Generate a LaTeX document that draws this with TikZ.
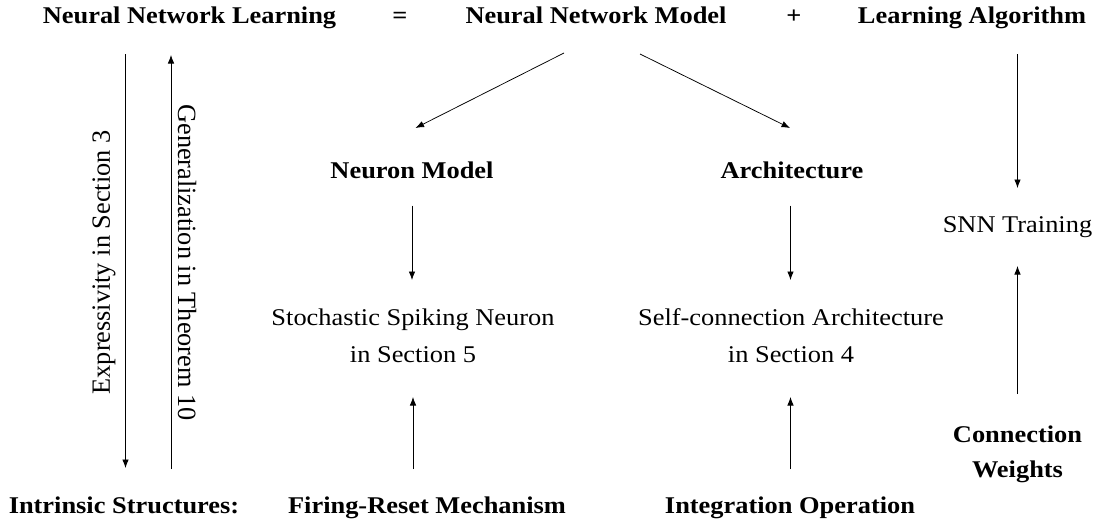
\documentclass[tikz,border=0pt]{standalone}
\usepackage{fontspec}
\usepackage{graphicx}
\setmainfont{Liberation Serif}
\usetikzlibrary{arrows.meta}
\newcommand{\hx}[1]{\scalebox{1.1}[1]{#1}}
\begin{document}
\begin{tikzpicture}[x=1pt,y=-1pt,
  head/.style={font=\fontsize{24}{35}\selectfont\bfseries, inner sep=0pt, align=center},
  body/.style={font=\fontsize{24}{37}\selectfont, inner sep=0pt, align=center},
  side/.style={font=\fontsize{26.3}{30}\selectfont, inner sep=0pt},
  arr/.style={line width=0.75pt, -{Latex[length=8.5pt,width=6.5pt]}}]
\useasboundingbox (0,0) rectangle (1097,525);
% top row
\node[head, anchor=base] (nnl) at (189.5,23) {\hx{Neural Network Learning}};
\node[head, anchor=base] (eq) at (400,23) {\hx{=}};
\node[head, anchor=base] (nnm) at (596,23) {\hx{Neural Network Model}};
\node[head, anchor=base] (plus) at (794,23) {\hx{+}};
\node[head, anchor=base] (la) at (972,23) {\hx{Learning Algorithm}};
% middle
\node[head, anchor=base] (nm) at (412,178) {\hx{Neuron Model}};
\node[head, anchor=base] (ar) at (792,178) {\hx{Architecture}};
\node[body] (ssn) at (413,335.3) {\hx{Stochastic Spiking Neuron}\\\hx{in Section 5}};
\node[body] (sca) at (791,335.3) {\hx{Self-connection Architecture}\\\hx{in Section 4}};
\node[body, anchor=base] (snn) at (1017.5,232) {\hx{SNN Training}};
\node[head] (cw) at (1017.5,453.9) {\hx{Connection}\\\hx{Weights}};
% bottom
\node[head, anchor=base] (is) at (124,513) {\hx{Intrinsic Structures:}};
\node[head, anchor=base] (frm) at (427,513) {\hx{Firing-Reset Mechanism}};
\node[head, anchor=base] (io) at (790,513) {\hx{Integration Operation}};
% left arrows
\coordinate (e1) at (125.5,54);
\coordinate (e2) at (125.5,468);
\coordinate (g1) at (171,469);
\coordinate (g2) at (171,55);
\draw[arr] (e1) -- (e2);
\draw[arr] (g1) -- (g2);
\node[side, rotate=90] (ex) at (104,262.5) {Expressivity in Section 3};
\node[side, rotate=-90] (ge) at (187,262.5) {Generalization in Theorem 10};
% connectors from the model
\coordinate (a1) at (564,53);
\coordinate (a2) at (415.5,128);
\coordinate (b1) at (640,54);
\coordinate (b2) at (790,128);
\draw[arr] (a1) -- (a2);
\draw[arr] (b1) -- (b2);
% middle column arrows
\coordinate (c1) at (412,205.5);
\coordinate (c2) at (412,280);
\coordinate (d1) at (790.5,205.5);
\coordinate (d2) at (790.5,280);
\draw[arr] (c1) -- (c2);
\draw[arr] (d1) -- (d2);
\coordinate (f1) at (413,469);
\coordinate (f2) at (413,397);
\coordinate (h1) at (790.5,469);
\coordinate (h2) at (790.5,397);
\draw[arr] (f1) -- (f2);
\draw[arr] (h1) -- (h2);
% right column
\coordinate (k1) at (1017.5,54);
\coordinate (k2) at (1017.5,188);
\coordinate (m1) at (1017.5,394);
\coordinate (m2) at (1017.5,266);
\draw[arr] (k1) -- (k2);
\draw[arr] (m1) -- (m2);
\end{tikzpicture}
\end{document}
